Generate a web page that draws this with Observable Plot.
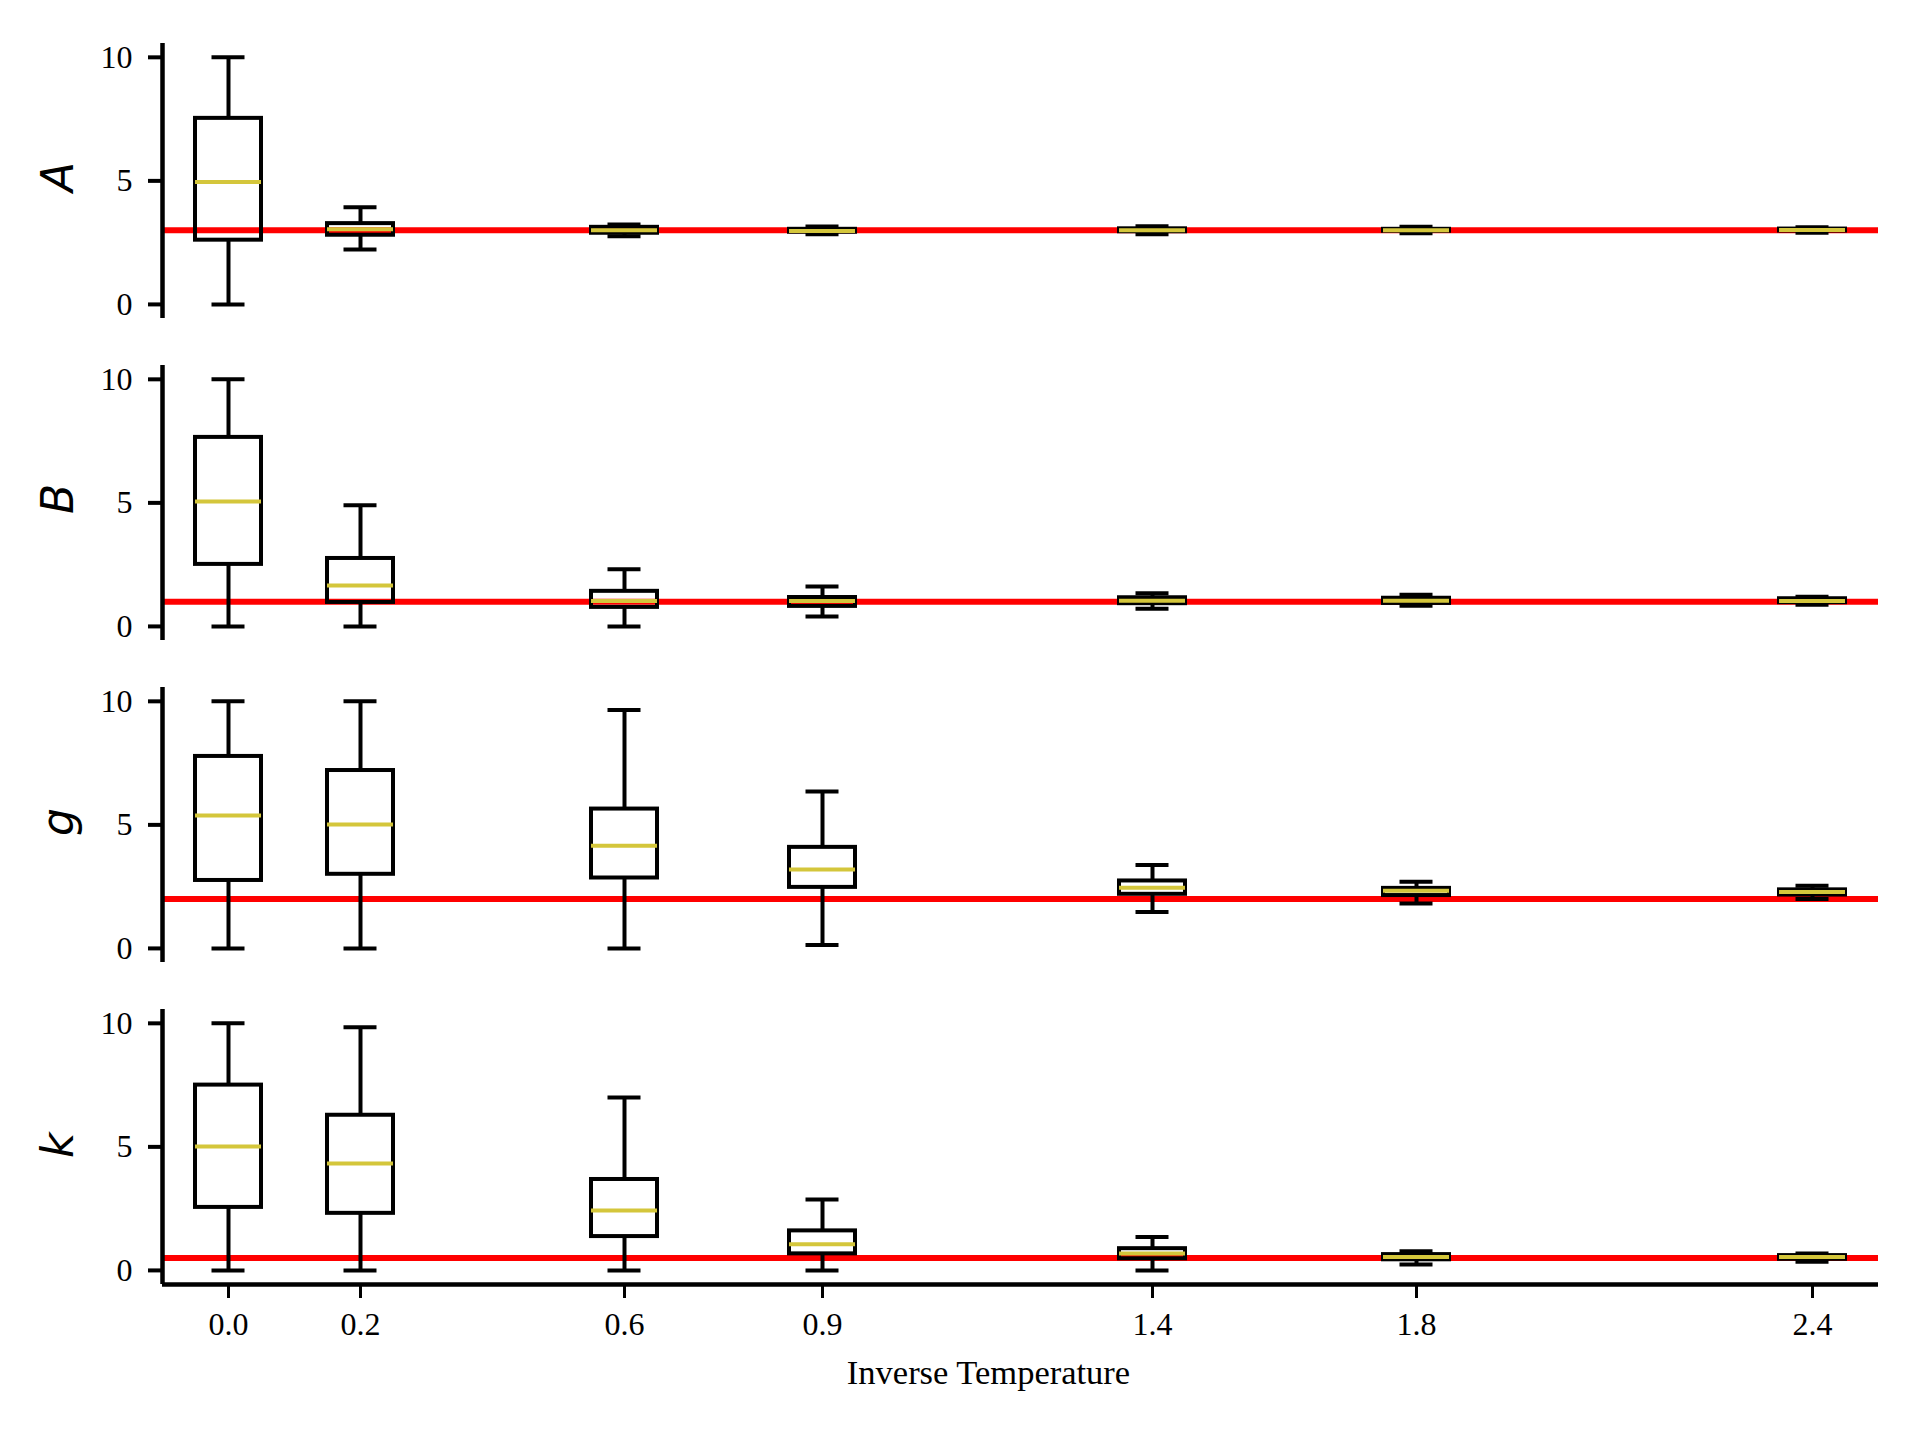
<!DOCTYPE html>
<html>
<head>
<meta charset="utf-8">
<script src="https://cdn.jsdelivr.net/npm/d3@7"></script>
<script src="https://cdn.jsdelivr.net/npm/@observablehq/plot@0.6"></script>
<style>
html, body { margin: 0; padding: 0; background: #ffffff; }
#chart { width: 1920px; }
#chart svg { display: block; }
</style>
</head>
<body>
<div id="chart"></div>
<script>
// Inverse temperatures (box positions) and their tick labels
const temps = [0.0, 0.2, 0.6, 0.9, 1.4, 1.8, 2.4];
const tempLabels = ["0.0", "0.2", "0.6", "0.9", "1.4", "1.8", "2.4"];

// Parameters (one panel each) and their true values (red lines)
const params = ["A", "B", "g", "k"];
const trueValues = [3, 1, 2, 0.5];

// Box statistics per temperature: [whiskerLow, q1, median, q3, whiskerHigh]
const statsA = [
  [0.00, 2.60, 4.95, 7.53, 10.00],
  [2.22, 2.80, 3.04, 3.27, 3.93],
  [2.76, 2.88, 3.00, 3.12, 3.23],
  [2.84, 2.92, 2.97, 3.04, 3.15],
  [2.84, 2.94, 3.00, 3.06, 3.16],
  [2.88, 2.96, 3.00, 3.04, 3.14],
  [2.90, 2.97, 3.01, 3.05, 3.12]
];
const statsB = [
  [0.00, 2.51, 5.06, 7.65, 10.00],
  [0.00, 0.97, 1.66, 2.75, 4.90],
  [0.00, 0.77, 1.03, 1.42, 2.31],
  [0.40, 0.81, 1.03, 1.17, 1.62],
  [0.72, 0.92, 1.04, 1.16, 1.34],
  [0.84, 0.93, 1.04, 1.14, 1.28],
  [0.88, 0.96, 1.03, 1.12, 1.20]
];
const statsG = [
  [0.00, 2.75, 5.38, 7.77, 10.00],
  [0.00, 3.00, 5.02, 7.20, 10.00],
  [0.00, 2.85, 4.16, 5.64, 9.65],
  [0.14, 2.47, 3.19, 4.09, 6.35],
  [1.47, 2.19, 2.46, 2.73, 3.38],
  [1.82, 2.14, 2.33, 2.43, 2.70],
  [2.00, 2.16, 2.28, 2.37, 2.54]
];
const statsK = [
  [0.00, 2.55, 5.02, 7.50, 10.00],
  [0.00, 2.31, 4.33, 6.28, 9.84],
  [0.00, 1.37, 2.42, 3.68, 7.00],
  [0.00, 0.67, 1.06, 1.60, 2.87],
  [0.00, 0.47, 0.68, 0.88, 1.35],
  [0.24, 0.43, 0.54, 0.64, 0.78],
  [0.35, 0.45, 0.54, 0.60, 0.68]
];
const allStats = [statsA, statsB, statsG, statsK];

// Axis settings
const yTicks = [0, 5, 10];
const xDomain = [-0.1, 2.5];
const yDomain = [-0.57, 10.56];
const xLabel = "Inverse Temperature";

// Box widths in data units (matplotlib-style widths)
const boxHalf = 0.05;
const capHalf = 0.025;

const medianColor = "#d4c63b";
const chart = document.getElementById("chart");

params.forEach((p, i) => {
  const rows = temps.map((t, j) => ({
    t,
    lo: allStats[i][j][0],
    q1: allStats[i][j][1],
    med: allStats[i][j][2],
    q3: allStats[i][j][3],
    hi: allStats[i][j][4]
  }));
  const last = i === params.length - 1;
  const lineOpts = {stroke: "black", strokeWidth: 4};
  const marks = [
    Plot.ruleY([trueValues[i]], {stroke: "#ff0000", strokeWidth: 6}),
    Plot.ruleX(rows, {x: "t", y1: "lo", y2: "q1", ...lineOpts}),
    Plot.ruleX(rows, {x: "t", y1: "q3", y2: "hi", ...lineOpts}),
    Plot.ruleY(rows, {y: "lo", x1: d => d.t - capHalf, x2: d => d.t + capHalf, ...lineOpts}),
    Plot.ruleY(rows, {y: "hi", x1: d => d.t - capHalf, x2: d => d.t + capHalf, ...lineOpts}),
    Plot.rect(rows, {x1: d => d.t - boxHalf, x2: d => d.t + boxHalf, y1: "q1", y2: "q3", fill: "none", ...lineOpts}),
    Plot.ruleY(rows, {y: "med", x1: d => d.t - boxHalf, x2: d => d.t + boxHalf, stroke: medianColor, strokeWidth: 4}),
    Plot.axisY(yTicks, {tickSize: 14, tickPadding: 16, strokeWidth: 4, label: null, fontSize: 32, fill: "black"}),
    Plot.ruleX([xDomain[0]], {stroke: "black", strokeWidth: 4.5}),
    Plot.text([p], {text: d => d, frameAnchor: "left", dx: -104, dy: 11, rotate: -90,
      fontFamily: "DejaVu Sans", fontStyle: "italic", fontSize: 44, fill: "black"})
  ];
  if (last) {
    marks.push(
      Plot.ruleY([yDomain[0]], {stroke: "black", strokeWidth: 4.5}),
      Plot.axisX(temps, {tickSize: 14, tickPadding: 14, strokeWidth: 3, label: null, fontSize: 32, fill: "black",
        tickFormat: d => tempLabels[temps.indexOf(d)]}),
      Plot.text([xLabel], {text: d => d, frameAnchor: "bottom", dx: -32, dy: 99,
        fontFamily: "Liberation Serif", fontSize: 34.5, fill: "black"})
    );
  }
  const svg = Plot.plot({
    width: 1920,
    height: last ? 474 : 322,
    marginLeft: 162,
    marginRight: 42,
    marginTop: 43,
    marginBottom: last ? 156 : 4,
    x: {domain: xDomain, axis: last ? undefined : null},
    y: {domain: yDomain},
    style: {fontFamily: "Liberation Serif", fontSize: "32px", color: "black", background: "white", overflow: "visible"},
    marks
  });
  chart.appendChild(svg);
});
</script>
</body>
</html>
